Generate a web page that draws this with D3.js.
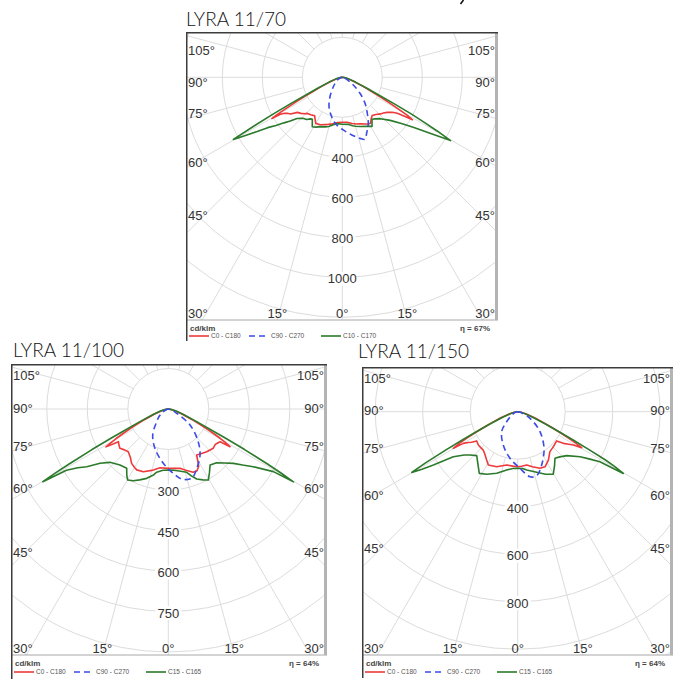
<!DOCTYPE html>
<html>
<head>
<meta charset="utf-8">
<script src="https://cdn.jsdelivr.net/npm/d3@7"></script>
<style>
  body { margin: 0; background: #fff; }
  svg { display: block; }
</style>
</head>
<body>
<svg id="chart" width="681" height="691"></svg>
<script>
// ---- data: [gamma (deg, 0 = down), intensity cd/klm] ----

// LYRA 11/70
var c0_70 = [[-90,0],[-85,5],[-80,14],[-75,32],[-70,62],[-66,118],[-64,170],[-63,212],[-62,262],[-61,325],[-60.2,380],[-59.6,408],
  [-59.2,361],[-58,340],[-56.8,329],[-54.7,317],[-52,285],[-49,275],[-46,262],[-44,251],[-40,245],[-37.5,240],[-36,236],
  [-30,266],[-25,262],[-20,252],[-17.6,248],[-12,238],[-6,228],[0,225],
  [6,226],[12,236],[17,244],[21.4,250],[26,260],[29.7,268],[31.5,270],[35,252],[38,243],[42,250],[46.3,265],[49,272],[52,285],[55,305],[56.8,329],[58,370],[58.8,410],
  [59.7,375],[60.5,325],[61.5,268],[62.5,220],[64,170],[66,118],[70,62],[75,32],[80,14],[85,5],[90,0]];
var c90_70 = [[-90,0],[-75,8],[-60,30],[-50,48],[-43.7,65],[-32.4,115],[-24.3,161],[-15.1,204],[-6.7,240],[1,263],[9.3,292],[16.2,318],
  [20.1,330],[23.5,305],[29.5,264],[34.8,219],[41.1,173],[47.9,119],[55,67],[65.6,24],[75,8],[90,0]];
var c10_70 = [[-90,0],[-85,5],[-80,15],[-75,35],[-70,70],[-66,135],[-64,205],[-63,285],[-62,390],[-61,520],[-60.3,627],
  [-59,565],[-57.5,505],[-56,450],[-54,410],[-52,370],[-50,340],[-47.7,306],[-44,285],[-40,276],[-37.5,262],[-35.5,258],
  [-31.3,289],[-28,282],[-24,270],[-19,262],[-15.5,255],[-10,240],[-6,233],[0,235],
  [7,237],[12,248],[15,253],[20,262],[26,273],[31.2,287],[35.3,257],[38,264],[42.6,281],[48,322],[52,375],[55,437],[57.5,520],[59.7,627],
  [60.5,545],[61.2,470],[62,390],[63,285],[64,205],[66,135],[70,70],[75,35],[80,15],[85,5],[90,0]];

// LYRA 11/100
var c0_100 = [[-90,0],[-85,4],[-80,10],[-75,25],[-70,52],[-66,95],[-64,128],[-62.5,162],[-61.5,192],[-60.5,222],[-59.5,250],[-58.7,270],
  [-57.5,240],[-56.8,221],[-54,226],[-50.9,231],[-47,222],[-43.1,217],[-38,228],[-34,243],[-30,250],[-27.4,254],[-21.7,250],[-13.8,233],[-8,220],[0,220],
  [6,221],[11.2,224],[16,236],[21.5,252],[25,252],[28,240],[31.7,200],[36,205],[42,213],[48.9,221],[53,218],[55.5,222],[57.7,227],[58.6,268],
  [59.5,248],[60.5,222],[61.5,192],[62.5,162],[64,128],[66,95],[70,52],[75,25],[80,10],[85,4],[90,0]];
var c90_100 = [[-90,0],[-75,6],[-62,22],[-52,42],[-42.4,64],[-31,112],[-18.7,154],[-5.3,202],[4.4,239],[10.8,264],[18.7,271],
  [25.6,244],[34.6,207],[42.5,164],[53.6,100],[63,35],[75,10],[90,0]];
var c15_100 = [[-90,0],[-85,4],[-80,13],[-75,30],[-70,60],[-66,115],[-64,175],[-63,235],[-62,320],[-61,420],[-60.5,480],[-59.9,537],
  [-59,440],[-57,400],[-54.7,370],[-51.5,323],[-47.6,293],[-44,282],[-40.8,274],[-35.1,268],
  [-32,290],[-29.8,303],[-26,296],[-22,283],[-17.3,269],[-13,252],[-10.4,238],[-5,228],[0,226],
  [5,228],[10,233],[16.2,244],[19,262],[22.1,280],[26,292],[29.4,302],[33,280],[36.7,259],[42,268],[46,288],[50.1,314],[53,345],[55.8,380],[59.2,453],[59.8,536],
  [60.4,480],[61,420],[62,320],[63,235],[64,175],[66,115],[70,60],[75,30],[80,13],[85,4],[90,0]];

// LYRA 11/150
var c0_150 = [[-90,0],[-85,5],[-80,15],[-75,37],[-70,78],[-67,120],[-65,162],[-63.5,208],[-62.5,243],[-61.5,278],[-60.4,312],
  [-59.8,265],[-58,245],[-56.4,233],[-54.5,212],[-49.8,217],[-45,217],[-41.9,217],[-37,228],[-32.7,242],[-28.9,256],[-20.9,248],[-11.7,229],[-5,230],[0,232],
  [4,230],[9.6,228],[15,240],[21.5,256],[26.4,259],[32.4,241],[38.9,216],[46,210],[53.1,205],[55.3,234],[57.5,255],[59.1,273],[60.6,309],
  [61.5,278],[62.5,243],[63.5,208],[65,162],[67,120],[70,78],[75,37],[80,15],[85,5],[90,0]];
var c90_150 = [[-90,0],[-75,10],[-60,28],[-47.7,63],[-38.7,108],[-23.4,153],[-9.4,199],[2.3,238],[10.7,279],[16.5,281],
  [24.2,246],[35.7,190],[48.1,126],[61.8,59],[75,14],[90,0]];
var c15_150 = [[-90,0],[-85,4],[-80,12],[-75,30],[-70,65],[-66,130],[-64,200],[-63,260],[-62,340],[-61,440],[-60.2,514],
  [-59,470],[-57.7,420],[-55,331],[-51,290],[-47.8,271],[-43,253],[-37,278],[-31.9,306],[-26.3,294],[-18.8,274],[-10.7,250],[-5,240],[0,238],
  [5,240],[8.8,248],[17.4,267],[24,288],[29.6,303],[34,277],[38.7,251],[43,260],[48.1,277],[54.2,324],[56.5,360],[58.7,405],[59.7,515],
  [60.5,470],[61.2,420],[62,340],[63,260],[64,200],[66,130],[70,65],[75,30],[80,12],[85,4],[90,0]];

var ringLabels70 = [400, 600, 800, 1000];
var ringLabels100 = [300, 450, 600, 750];
var ringLabels150 = [400, 600, 800];
var sideAngles = [105, 90, 75, 60, 45];
var bottomAngles = [-30, -15, 0, 15, 30];
var legend70 = ["C0 - C180", "C90 - C270", "C10 - C170"];
var legend100 = ["C0 - C180", "C90 - C270", "C15 - C165"];
var legend150 = ["C0 - C180", "C90 - C270", "C15 - C165"];
var etas = ["67%", "64%", "64%"];

var colors = ["#ee3a3a", "#3b4be6", "#2c7a2c"];
var dashes = [null, "6,4", null];

// ---- layout ----
var svg = d3.select("#chart");
var labelFont = "'Liberation Sans', Arial, sans-serif";
var titleFont = "Lato, 'Open Sans', sans-serif";

var panels = [
  {title: "LYRA 11/100", tx: 13, ty: 357, x: 11, y: 364, w: 316, h: 291, lh: 24, legY: 17,
   cx: 157.3, cy: 45, step: 150, stepPx: 40.5, labels: ringLabels100, sideY: [11, 44, 82, 124, 188],
   series: [c0_100, c90_100, c15_100], names: legend100, eta: etas[1]},
  {title: "LYRA 11/150", tx: 358, ty: 357.5, x: 362, y: 367, w: 311, h: 288, lh: 23, legY: 17,
   cx: 155.7, cy: 44.7, step: 200, stepPx: 47.5, labels: ringLabels150, sideY: [11, 43, 81, 128, 181],
   series: [c0_150, c90_150, c15_150], names: legend150, eta: etas[2], clipTop: 342.5},
  {title: "LYRA 11/70", tx: 186, ty: 26, x: 186, y: 32, w: 312, h: 288, lh: 11, legY: 16,
   cx: 156.3, cy: 45.3, step: 200, stepPx: 40, labels: ringLabels70, sideY: [18, 50, 81, 130, 183],
   series: [c0_70, c90_70, c10_70], names: legend70, eta: etas[0]}
];

// sliver of a glyph cut off by the top edge
svg.append("path").attr("d", "M463.5,0L460.5,4")
  .style("stroke", "#111").style("stroke-width", 1.6);

panels.forEach(function(p, i) {
  var t = svg.append("text")
    .attr("x", p.tx).attr("y", p.ty)
    .style("font-family", titleFont)
    .style("font-size", "19px")
    .style("font-weight", 300)
    .style("fill", "#111")
    .text(p.title);
  if (p.clipTop) {
    svg.append("clipPath").attr("id", "tclip" + i)
      .append("rect").attr("x", p.tx - 5).attr("y", p.clipTop).attr("width", 200).attr("height", 30);
    t.attr("clip-path", "url(#tclip" + i + ")");
  }
});

panels.forEach(function(p, i) { drawPanel(p, i); });

function drawPanel(p, idx) {
  var g = svg.append("g").attr("transform", "translate(" + p.x + "," + p.y + ")");

  g.append("rect").attr("x", 0).attr("y", 0)
    .attr("width", p.w).attr("height", p.h + p.lh)
    .style("fill", "#fff");

  var clipId = "clip" + idx;
  g.append("clipPath").attr("id", clipId)
    .append("rect").attr("width", p.w).attr("height", p.h);

  var rad = d3.scaleLinear().domain([0, p.step]).range([0, p.stepPx]);
  var ang = d3.scaleLinear().domain([-180, 180]).range([2 * Math.PI, 0]);

  var plot = g.append("g").attr("clip-path", "url(#" + clipId + ")");
  var center = plot.append("g").attr("transform", "translate(" + p.cx + "," + p.cy + ")");

  // grid rings
  var maxR = Math.hypot(Math.max(p.cx, p.w - p.cx), Math.max(p.cy, p.h - p.cy));
  var nRings = Math.ceil(rad.invert(maxR) / p.step);
  var ringVals = d3.range(1, nRings + 1).map(function(k) { return k * p.step; });

  center.selectAll("circle.ring")
    .data(ringVals)
    .enter()
    .append("circle")
    .attr("class", "ring")
    .attr("r", function(d) { return rad(d); })
    .style("fill", "none")
    .style("stroke", "#dcdcdc")
    .style("stroke-width", 1);

  // spokes every 15 degrees, starting at the first ring
  center.selectAll("line.spoke")
    .data(d3.range(0, 360, 15))
    .enter()
    .append("line")
    .attr("class", "spoke")
    .attr("x1", function(d) { return rad(p.step) * Math.sin(d * Math.PI / 180); })
    .attr("y1", function(d) { return rad(p.step) * Math.cos(d * Math.PI / 180); })
    .attr("x2", function(d) { return maxR * Math.sin(d * Math.PI / 180); })
    .attr("y2", function(d) { return maxR * Math.cos(d * Math.PI / 180); })
    .style("stroke", "#dcdcdc")
    .style("stroke-width", 1);

  // ring labels on the 0 degree axis
  var rl = center.selectAll("g.rlab")
    .data(p.labels)
    .enter()
    .append("g")
    .attr("class", "rlab")
    .attr("transform", function(d) { return "translate(0," + (rad(d) + 1.5) + ")"; });
  rl.append("rect")
    .attr("x", -13).attr("y", -7).attr("width", 26).attr("height", 14)
    .style("fill", "#fff");
  rl.append("text")
    .attr("text-anchor", "middle")
    .attr("dy", "0.36em")
    .style("font-family", labelFont)
    .style("font-size", "13px")
    .style("fill", "#333")
    .text(function(d) { return d; });

  // angle labels on the sides
  [0, 1].forEach(function(side) {
    g.selectAll("text.side" + side)
      .data(sideAngles)
      .enter()
      .append("text")
      .attr("x", side ? p.w - 3 : 2)
      .attr("y", function(d, j) { return p.sideY[j]; })
      .attr("dy", "0.36em")
      .attr("text-anchor", side ? "end" : "start")
      .style("font-family", labelFont)
      .style("font-size", "13px")
      .style("fill", "#333")
      .text(function(d) { return d + "°"; });
  });

  // angle labels along the bottom
  g.selectAll("text.bottom")
    .data(bottomAngles)
    .enter()
    .append("text")
    .attr("x", function(d) {
      if (d <= -30) return 2;
      if (d >= 30) return p.w - 3;
      return p.cx + (p.h - p.cy) * Math.tan(d * Math.PI / 180);
    })
    .attr("y", p.h - 7)
    .attr("dy", "0.36em")
    .attr("text-anchor", function(d) { return d <= -30 ? "start" : d >= 30 ? "end" : "middle"; })
    .style("font-family", labelFont)
    .style("font-size", "13px")
    .style("fill", "#333")
    .text(function(d) { return Math.abs(d) + "°"; });

  // curves: red, then green, blue dashed on top
  var line = d3.lineRadial()
    .angle(function(d) { return ang(d[0]); })
    .radius(function(d) { return rad(d[1]); });

  [0, 2, 1].forEach(function(s) {
    center.append("path")
      .datum(p.series[s])
      .attr("d", line.curve(s === 1 ? d3.curveCatmullRom.alpha(0.5) : d3.curveLinear))
      .style("fill", "none")
      .style("stroke", colors[s])
      .style("stroke-width", 1.6)
      .style("stroke-linejoin", "round")
      .style("stroke-dasharray", dashes[s]);
  });

  // frame
  g.append("line").attr("x1", 0).attr("x2", p.w).attr("y1", p.h).attr("y2", p.h)
    .style("stroke", "#a8a8a8").style("stroke-width", 1);
  g.append("line").attr("x1", p.w - 1.5).attr("x2", p.w - 1.5).attr("y1", 0).attr("y2", p.h)
    .style("stroke", "#b4b4b4").style("stroke-width", 3);
  g.append("path")
    .attr("d", "M0.75," + (p.h + Math.max(p.lh, 21)) + "V0.75H" + p.w)
    .style("fill", "none").style("stroke", "#3c3c3c").style("stroke-width", 1.5);

  // legend
  var leg = g.append("g").attr("transform", "translate(0," + p.h + ")");
  leg.append("text").attr("x", 4).attr("y", 8).attr("dy", "0.36em")
    .style("font-family", labelFont).style("font-size", "8px").style("font-weight", "bold")
    .style("fill", "#444").text("cd/klm");
  leg.append("text").attr("x", p.w - 8).attr("y", 8).attr("dy", "0.36em")
    .attr("text-anchor", "end")
    .style("font-family", labelFont).style("font-size", "8px").style("font-weight", "bold")
    .style("fill", "#444").text("η = " + p.eta);

  var starts = [3, 63, 135];
  p.names.forEach(function(name, s) {
    leg.append("line")
      .attr("x1", starts[s]).attr("x2", starts[s] + 20)
      .attr("y1", p.legY).attr("y2", p.legY)
      .style("stroke", colors[s]).style("stroke-width", 1.6)
      .style("stroke-dasharray", dashes[s]);
    leg.append("text")
      .attr("x", starts[s] + 22).attr("y", p.legY).attr("dy", "0.36em")
      .style("font-family", labelFont).style("font-size", "6.5px")
      .style("fill", "#555").text(name);
  });
}
</script>
</body>
</html>
